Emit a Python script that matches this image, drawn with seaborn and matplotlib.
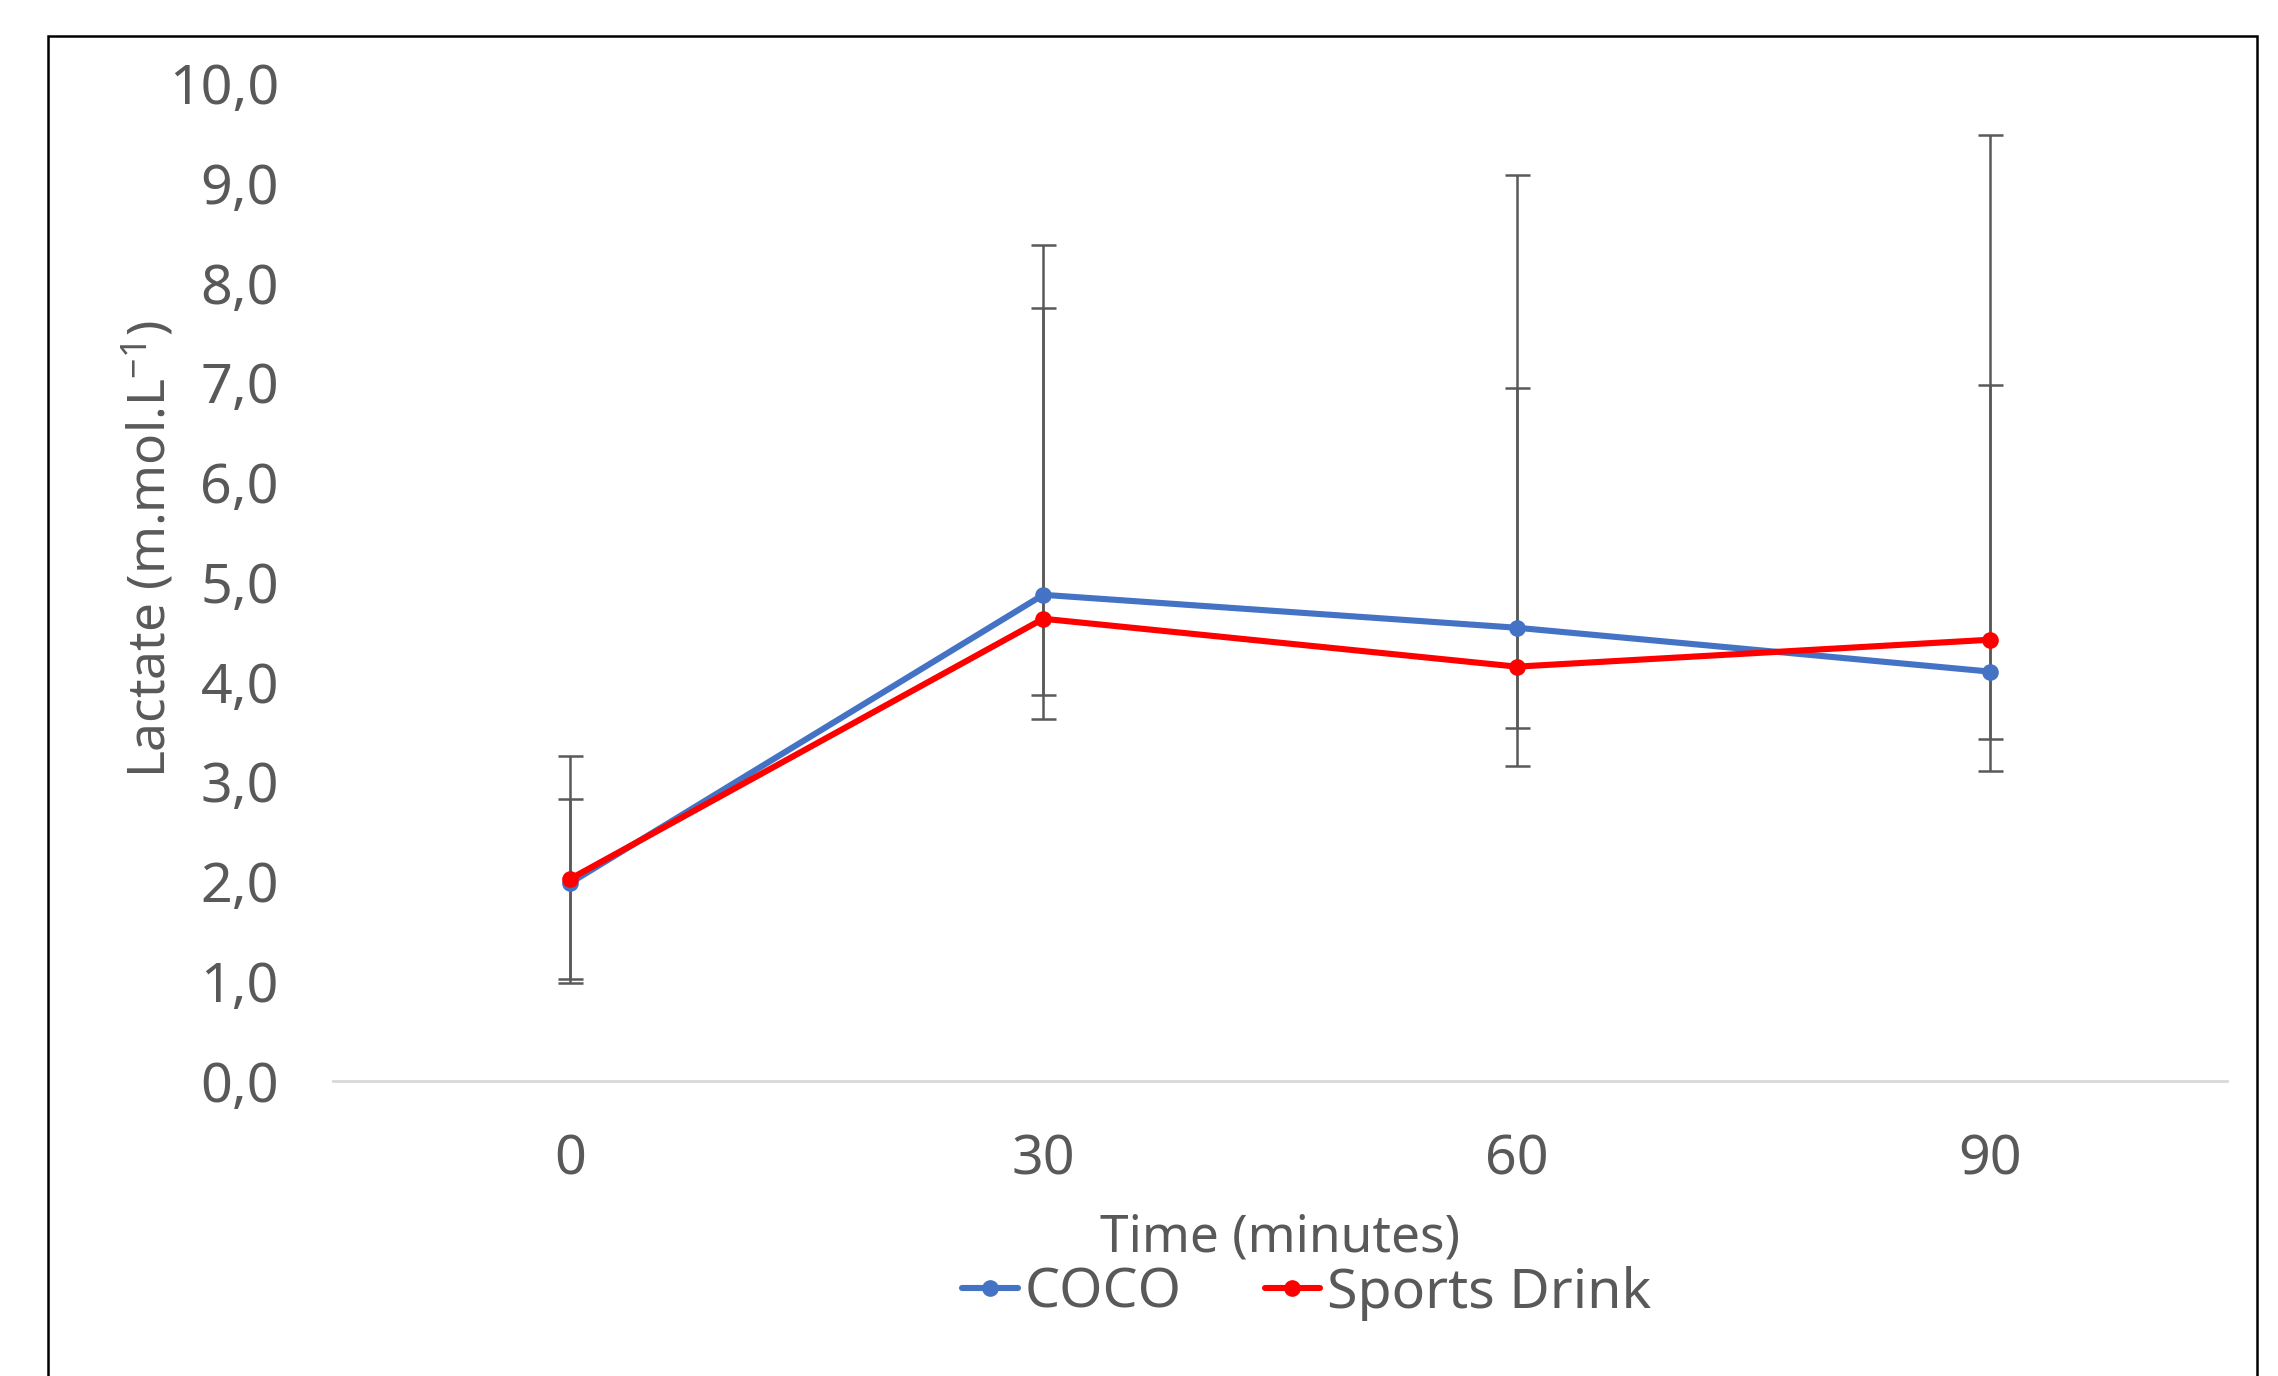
import matplotlib
matplotlib.use("Agg")
import matplotlib.pyplot as plt
import seaborn as sns
import pandas as pd
import numpy as np
from matplotlib.patches import Rectangle

# ---- data ----
time_labels = ["0", "30", "60", "90"]
coco = [1.98, 4.87, 4.54, 4.10]
sports = [2.02, 4.63, 4.15, 4.42]
coco_upper = [3.25, 8.38, 9.08, 9.48]      # top of error bar
sports_upper = [2.82, 7.74, 6.94, 6.97]    # top of error bar
coco_minus = [1.0, 1.0, 1.0, 1.0]
sports_minus = [1.0, 1.0, 1.0, 1.0]
yticks = [0, 1, 2, 3, 4, 5, 6, 7, 8, 9, 10]
ytick_labels = ["0,0", "1,0", "2,0", "3,0", "4,0", "5,0", "6,0", "7,0", "8,0", "9,0", "10,0"]

series_names = ["COCO", "Sports Drink"]
colors = {"COCO": "#4472C4", "Sports Drink": "#FF0000"}

df = pd.DataFrame({
    "Time": list(range(len(time_labels))) * 2,
    "Lactate": coco + sports,
    "Series": ["COCO"] * 4 + ["Sports Drink"] * 4,
})

sns.set_theme(style="white")
plt.rcParams["font.family"] = ["Noto Sans", "DejaVu Sans"]
plt.rcParams["mathtext.default"] = "regular"
txt = "#595959"

fig = plt.figure(figsize=(11.39, 6.88), dpi=200)
ax = fig.add_axes([0.1462, 0.2146, 0.8314, 0.7251])

# error bars (gray)
xs = np.arange(len(time_labels))
for vals, up, mn in [(coco, coco_upper, coco_minus), (sports, sports_upper, sports_minus)]:
    plus = np.array(up) - np.array(vals)
    ax.errorbar(xs, vals, yerr=[mn, plus], fmt="none", ecolor="#595959",
                elinewidth=0.9, capsize=4.5, capthick=0.9, zorder=2)

sns.lineplot(data=df, x="Time", y="Lactate", hue="Series", hue_order=series_names,
             palette=colors, marker="o", markersize=6, markeredgewidth=0,
             linewidth=2.2, ax=ax, zorder=3, legend=True)

ax.set_xlim(-0.5, 3.5)
ax.set_ylim(0, 10)
ax.set_xticks(xs)
ax.set_xticklabels(time_labels)
ax.set_yticks(yticks)
ax.set_yticklabels(ytick_labels)
ax.tick_params(axis="both", length=0, labelsize=20, colors=txt)
ax.tick_params(axis="y", pad=19.5)
ax.tick_params(axis="x", pad=18.5)

for s in ["top", "right", "left"]:
    ax.spines[s].set_visible(False)
ax.spines["bottom"].set_color("#D9D9D9")
ax.spines["bottom"].set_linewidth(1.0)
ax.grid(False)

ax.set_xlabel("Time (minutes)", fontsize=18.5, color=txt, labelpad=9)
ax.set_ylabel("Lactate (m.mol.L$^{-1}$)", fontsize=18.5, color=txt)
ax.yaxis.set_label_coords(-0.082, 0.533)

handles, labels = ax.get_legend_handles_labels()
leg = ax.legend(handles, labels, loc="upper center", bbox_to_anchor=(0.514, -0.163),
                ncol=2, frameon=False, fontsize=20, handlelength=1.0,
                handletextpad=0.12, columnspacing=1.5, borderaxespad=0)
for t in leg.get_texts():
    t.set_color(txt)

# outer chart border (extends past the bottom of the image)
fig.patches.append(Rectangle((48 / 2278, -0.1), (2257 - 48) / 2278, 1 - 36 / 1376 + 0.1,
                             transform=fig.transFigure, fill=False,
                             edgecolor="black", linewidth=0.9, zorder=0))

fig.savefig("out.png", dpi=200)
